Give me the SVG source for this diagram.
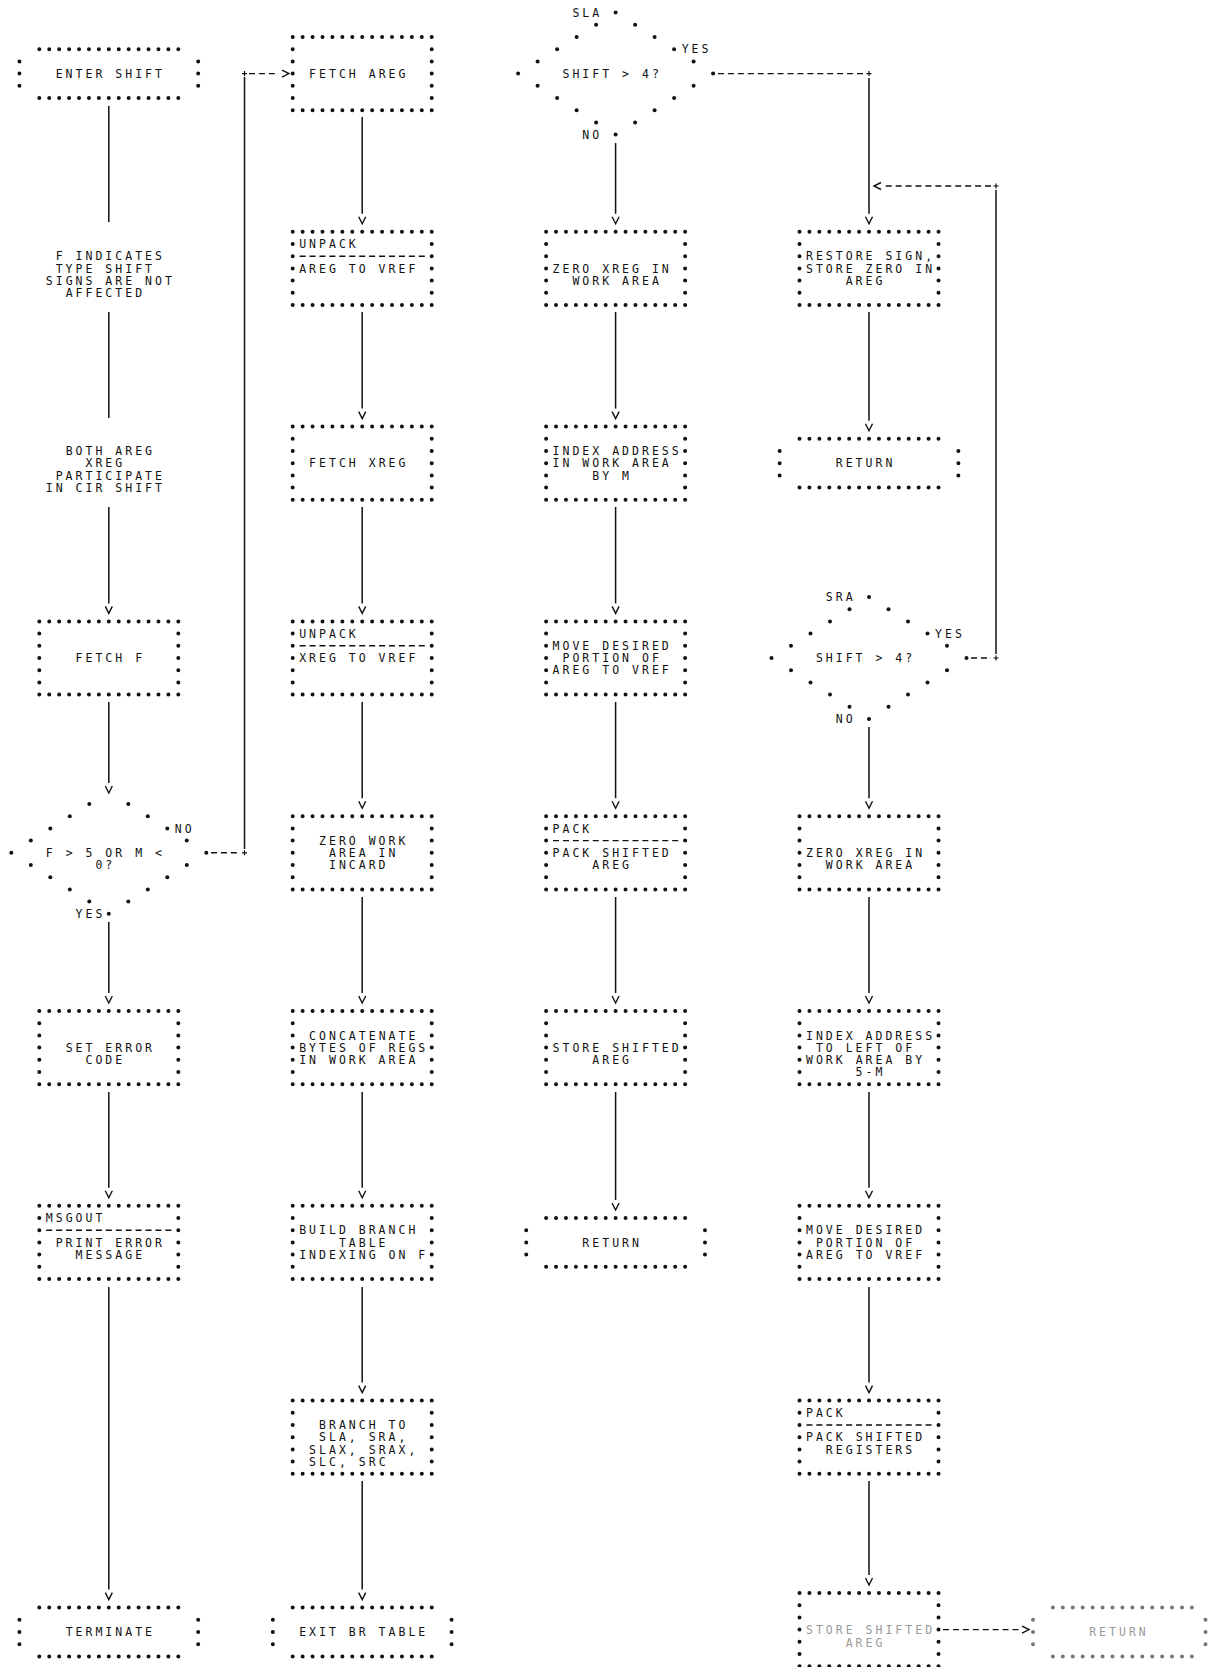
<svg xmlns="http://www.w3.org/2000/svg" width="1209" height="1667" viewBox="0 0 1209 1667">
<style>
.dh{fill:none;stroke:#111;stroke-width:4;stroke-linecap:round;stroke-dasharray:0.01 9.92}
.dv{fill:none;stroke:#111;stroke-width:4;stroke-linecap:round;stroke-dasharray:0.01 12.19}
.sep{fill:none;stroke:#111;stroke-width:1.4;stroke-dasharray:6 3.93}
.dot{fill:#111}
.ln{fill:none;stroke:#111;stroke-width:1.5}
.dl{fill:none;stroke:#111;stroke-width:1.4;stroke-dasharray:6 3.93}
.pl{fill:none;stroke:#111;stroke-width:1.2}
text{font-family:"DejaVu Sans Mono","Liberation Mono",monospace;font-size:11.5px;letter-spacing:3.01px;fill:#111}
.fade text{fill:#9a9a9a}
.fade .dh,.fade .dv{stroke:#777}
</style>
<defs>
<marker id="arr" markerUnits="userSpaceOnUse" viewBox="0 0 12 10" markerWidth="12" markerHeight="10" refX="0" refY="5" orient="auto" overflow="visible">
<path d="M3,1.5L10,5L3,8.5" fill="none" stroke="#111" stroke-width="1.4"/>
</marker>
<g id="box">
<path class="dh" d="M0,0h139.1M0,73.2h139.1"/>
<path class="dv" d="M0,12.2v48.9M139.02,12.2v48.9"/>
</g>
<g id="boxs">
<use href="#box"/>
<path class="sep" d="M6.93,24.4H132.1"/>
</g>
<g id="term">
<path class="dh" d="M0,0h139.1M0,48.8h139.1"/>
<path class="dv" d="M-19.86,12.2v24.5M158.88,12.2v24.5"/>
</g>
<g id="dia">
<circle class="dot" cx="-19.5" cy="-48.8" r="2"/><circle class="dot" cx="19.5" cy="-48.8" r="2"/>
<circle class="dot" cx="-39" cy="-36.6" r="2"/><circle class="dot" cx="39" cy="-36.6" r="2"/>
<circle class="dot" cx="-58.5" cy="-24.4" r="2"/><circle class="dot" cx="58.5" cy="-24.4" r="2"/>
<circle class="dot" cx="-78" cy="-12.2" r="2"/><circle class="dot" cx="78" cy="-12.2" r="2"/>
<circle class="dot" cx="-97.5" cy="0" r="2"/><circle class="dot" cx="97.5" cy="0" r="2"/>
<circle class="dot" cx="-78" cy="12.2" r="2"/><circle class="dot" cx="78" cy="12.2" r="2"/>
<circle class="dot" cx="-58.5" cy="24.4" r="2"/><circle class="dot" cx="58.5" cy="24.4" r="2"/>
<circle class="dot" cx="-39" cy="36.6" r="2"/><circle class="dot" cx="39" cy="36.6" r="2"/>
<circle class="dot" cx="-19.5" cy="48.8" r="2"/><circle class="dot" cx="19.5" cy="48.8" r="2"/>
<circle class="dot" cx="0" cy="61" r="2"/>
</g>
</defs>
<rect width="1209" height="1667" fill="#fff"/>

<g id="connectors">
<path class="ln" d="M108.8,106V222M108.8,312V418"/>
<path class="ln" marker-end="url(#arr)" d="M108.8,507V603.4"/>
<path class="ln" marker-end="url(#arr)" d="M108.8,702V783"/>
<path class="ln" marker-end="url(#arr)" d="M108.8,922V993"/>
<path class="ln" marker-end="url(#arr)" d="M108.8,1092V1187.8"/>
<path class="ln" marker-end="url(#arr)" d="M108.8,1287V1589.6"/>
<path class="ln" marker-end="url(#arr)" d="M362.2,117V213.8"/>
<path class="ln" marker-end="url(#arr)" d="M362.2,312V408.6"/>
<path class="ln" marker-end="url(#arr)" d="M362.2,507V603.4"/>
<path class="ln" marker-end="url(#arr)" d="M362.2,702V798.2"/>
<path class="ln" marker-end="url(#arr)" d="M362.2,897V993"/>
<path class="ln" marker-end="url(#arr)" d="M362.2,1092V1187.8"/>
<path class="ln" marker-end="url(#arr)" d="M362.2,1287V1382.6"/>
<path class="ln" marker-end="url(#arr)" d="M362.2,1481V1589.6"/>
<path class="ln" marker-end="url(#arr)" d="M615.6,143V213.8"/>
<path class="ln" marker-end="url(#arr)" d="M615.6,312V408.6"/>
<path class="ln" marker-end="url(#arr)" d="M615.6,507V603.4"/>
<path class="ln" marker-end="url(#arr)" d="M615.6,702V798.2"/>
<path class="ln" marker-end="url(#arr)" d="M615.6,897V993"/>
<path class="ln" marker-end="url(#arr)" d="M615.6,1092V1200"/>
<path class="ln" marker-end="url(#arr)" d="M869,78V213.8"/>
<path class="ln" marker-end="url(#arr)" d="M869,312V420.8"/>
<path class="ln" marker-end="url(#arr)" d="M869,727V798.2"/>
<path class="ln" marker-end="url(#arr)" d="M869,897V993"/>
<path class="ln" marker-end="url(#arr)" d="M869,1092V1187.8"/>
<path class="ln" marker-end="url(#arr)" d="M869,1287V1382.6"/>
<path class="ln" marker-end="url(#arr)" d="M869,1481V1575"/>
<path class="dl" d="M211,852.8H240"/>
<path class="ln" d="M244.5,849V77"/>
<path class="dl" marker-end="url(#arr)" d="M249,73.6H279"/>
<path class="dl" d="M718,73.6H864"/>
<path class="dl" d="M971,658H991"/>
<path class="ln" d="M996,654V190"/>
<path class="dl" marker-end="url(#arr)" d="M991,186H884"/>
<path class="dl" marker-end="url(#arr)" d="M943,1629.6H1019"/>
<path class="pl" d="M242,852.8h5M244.5,850.3v5M242,73.6h5M244.5,71.1v5M866.5,73.6h5M869,71.1v5M993.5,658h5M996,655.5v5M993.5,186h5M996,183.5v5"/>
</g>

<g id="n_enter_shift"><use href="#term" x="39.3" y="49.2"/><text x="55.70" y="77.8">ENTER SHIFT</text></g>
<g id="n_note_f"><text x="55.70" y="260.4">F INDICATES</text><text x="55.70" y="272.6">TYPE SHIFT</text><text x="45.77" y="284.8">SIGNS ARE NOT</text><text x="65.63" y="297">AFFECTED</text></g>
<g id="n_note_both"><text x="65.63" y="455.2">BOTH AREG</text><text x="85.49" y="467.4">XREG</text><text x="55.70" y="479.6">PARTICIPATE</text><text x="45.77" y="491.8">IN CIR SHIFT</text></g>
<g id="n_fetch_f"><use href="#box" x="39.3" y="621.4"/><text x="75.56" y="662.2">FETCH F</text></g>
<g id="n_dec_f"><use href="#dia" x="108.8" y="852.8"/><text x="45.77" y="857">F &gt; 5 OR M &lt;</text><text x="95.42" y="869.2">0?</text><text x="174.86" y="832.6">NO</text><text x="75.56" y="918">YES</text></g>
<g id="n_set_error"><use href="#box" x="39.3" y="1011"/><text x="65.63" y="1051.8">SET ERROR</text><text x="85.49" y="1064">CODE</text></g>
<g id="n_msgout"><use href="#boxs" x="39.3" y="1205.8"/><text x="45.77" y="1222.2">MSGOUT</text><text x="55.70" y="1246.6">PRINT ERROR</text><text x="75.56" y="1258.8">MESSAGE</text></g>
<g id="n_terminate"><use href="#term" x="39.3" y="1607.6"/><text x="65.63" y="1636.2">TERMINATE</text></g>

<g id="n_fetch_areg"><use href="#box" x="292.7" y="37"/><text x="309.10" y="77.8">FETCH AREG</text></g>
<g id="n_unpack_areg"><use href="#boxs" x="292.7" y="231.8"/><text x="299.17" y="248.2">UNPACK</text><text x="299.17" y="272.6">AREG TO VREF</text></g>
<g id="n_fetch_xreg"><use href="#box" x="292.7" y="426.6"/><text x="309.10" y="467.4">FETCH XREG</text></g>
<g id="n_unpack_xreg"><use href="#boxs" x="292.7" y="621.4"/><text x="299.17" y="637.8">UNPACK</text><text x="299.17" y="662.2">XREG TO VREF</text></g>
<g id="n_zero_work"><use href="#box" x="292.7" y="816.2"/><text x="319.03" y="844.8">ZERO WORK</text><text x="328.96" y="857">AREA IN</text><text x="328.96" y="869.2">INCARD</text></g>
<g id="n_concat"><use href="#box" x="292.7" y="1011"/><text x="309.10" y="1039.6">CONCATENATE</text><text x="299.17" y="1051.8">BYTES OF REGS</text><text x="299.17" y="1064">IN WORK AREA</text></g>
<g id="n_build_branch"><use href="#box" x="292.7" y="1205.8"/><text x="299.17" y="1234.4">BUILD BRANCH</text><text x="338.89" y="1246.6">TABLE</text><text x="299.17" y="1258.8">INDEXING ON F</text></g>
<g id="n_branch_to"><use href="#box" x="292.7" y="1400.6"/><text x="319.03" y="1429.2">BRANCH TO</text><text x="319.03" y="1441.4">SLA, SRA,</text><text x="309.10" y="1453.6">SLAX, SRAX,</text><text x="309.10" y="1465.8">SLC, SRC</text></g>
<g id="n_exit_br"><use href="#term" x="292.7" y="1607.6"/><text x="299.17" y="1636.2">EXIT BR TABLE</text></g>

<g id="n_sla"><use href="#dia" x="615.6" y="73.6"/><circle class="dot" cx="615.6" cy="12.6" r="2"/><text x="562.50" y="77.8">SHIFT &gt; 4?</text><text x="572.43" y="16.8">SLA</text><text x="681.66" y="53.4">YES</text><text x="582.36" y="138.8">NO</text></g>
<g id="n_sla_zero"><use href="#box" x="546.1" y="231.8"/><text x="552.57" y="272.6">ZERO XREG IN</text><text x="572.43" y="284.8">WORK AREA</text></g>
<g id="n_sla_index"><use href="#box" x="546.1" y="426.6"/><text x="552.57" y="455.2">INDEX ADDRESS</text><text x="552.57" y="467.4">IN WORK AREA</text><text x="592.29" y="479.6">BY M</text></g>
<g id="n_sla_move"><use href="#box" x="546.1" y="621.4"/><text x="552.57" y="650">MOVE DESIRED</text><text x="562.50" y="662.2">PORTION OF</text><text x="552.57" y="674.4">AREG TO VREF</text></g>
<g id="n_sla_pack"><use href="#boxs" x="546.1" y="816.2"/><text x="552.57" y="832.6">PACK</text><text x="552.57" y="857">PACK SHIFTED</text><text x="592.29" y="869.2">AREG</text></g>
<g id="n_sla_store"><use href="#box" x="546.1" y="1011"/><text x="552.57" y="1051.8">STORE SHIFTED</text><text x="592.29" y="1064">AREG</text></g>
<g id="n_sla_return"><use href="#term" x="546.1" y="1218"/><text x="582.36" y="1246.6">RETURN</text></g>

<g id="n_restore"><use href="#box" x="799.5" y="231.8"/><text x="805.97" y="260.4">RESTORE SIGN,</text><text x="805.97" y="272.6">STORE ZERO IN</text><text x="845.69" y="284.8">AREG</text></g>
<g id="n_return_1"><use href="#term" x="799.5" y="438.8"/><text x="835.76" y="467.4">RETURN</text></g>
<g id="n_sra"><use href="#dia" x="869" y="658"/><circle class="dot" cx="869" cy="597" r="2"/><text x="815.90" y="662.2">SHIFT &gt; 4?</text><text x="825.83" y="601.2">SRA</text><text x="935.06" y="637.8">YES</text><text x="835.76" y="723.2">NO</text></g>
<g id="n_sra_zero"><use href="#box" x="799.5" y="816.2"/><text x="805.97" y="857">ZERO XREG IN</text><text x="825.83" y="869.2">WORK AREA</text></g>
<g id="n_sra_index"><use href="#box" x="799.5" y="1011"/><text x="805.97" y="1039.6">INDEX ADDRESS</text><text x="815.90" y="1051.8">TO LEFT OF</text><text x="805.97" y="1064">WORK AREA BY</text><text x="855.62" y="1076.2">5-M</text></g>
<g id="n_sra_move"><use href="#box" x="799.5" y="1205.8"/><text x="805.97" y="1234.4">MOVE DESIRED</text><text x="815.90" y="1246.6">PORTION OF</text><text x="805.97" y="1258.8">AREG TO VREF</text></g>
<g id="n_sra_pack"><use href="#boxs" x="799.5" y="1400.6"/><text x="805.97" y="1417">PACK</text><text x="805.97" y="1441.4">PACK SHIFTED</text><text x="825.83" y="1453.6">REGISTERS</text></g>
<g id="n_sra_store"><use href="#box" x="799.5" y="1593"/><text x="805.97" y="1634.4" style="fill:#9a9a9a">STORE SHIFTED</text><text x="845.69" y="1646.6" style="fill:#9a9a9a">AREG</text></g>
<g id="n_sra_return" class="fade">
<path class="dh" d="M1052.9,1607.6h139.1M1052.9,1656.4h139.1"/>
<path class="dv" d="M1033,1619.8v24.5M1205.5,1619.8v24.5"/>
<text x="1089.16" y="1636.2">RETURN</text>
</g>
</svg>
